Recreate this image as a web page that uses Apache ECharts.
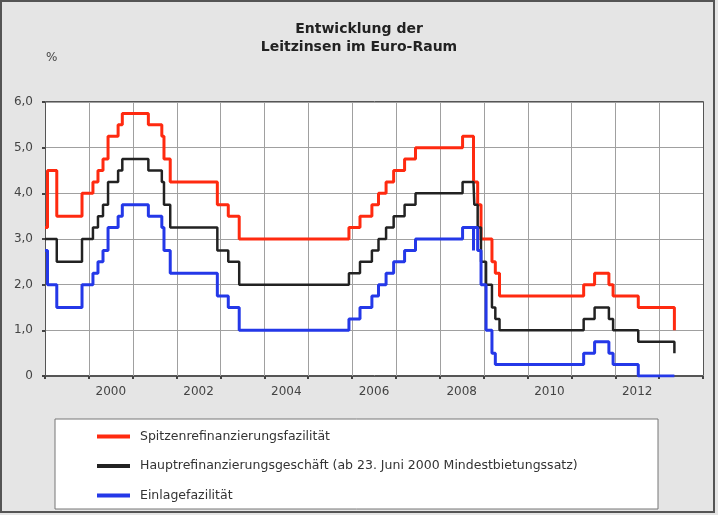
<!DOCTYPE html>
<html>
<head>
<meta charset="utf-8">
<script src="https://cdn.jsdelivr.net/npm/echarts@6/dist/echarts.min.js"></script>
<style>
    html, body { margin: 0; padding: 0; background: #e5e5e5; }
    #chart { width: 718px; height: 515px; }
</style>
</head>
<body>
<div id="chart"></div>
<script>
// Leitzinsen der EZB, Datum der Zinsänderung
const dates = ["1999-01-01", "1999-01-22", "1999-04-09", "1999-11-05", "2000-02-04", "2000-03-17",
    "2000-04-28", "2000-06-09", "2000-09-01", "2000-10-06", "2001-05-11", "2001-08-31", "2001-09-18",
    "2001-11-09", "2002-12-06", "2003-03-07", "2003-06-06", "2005-12-06", "2006-03-08", "2006-06-15",
    "2006-08-09", "2006-10-11", "2006-12-13", "2007-03-14", "2007-06-13", "2008-07-09", "2008-10-08",
    "2008-10-09", "2008-10-15", "2008-11-12", "2008-12-10", "2009-01-21", "2009-03-11", "2009-04-08",
    "2009-05-13", "2011-04-13", "2011-07-13", "2011-11-09", "2011-12-14", "2012-07-11", "2013-05-08"]
const spitzen = [3.25, 4.50, 3.50, 4.00, 4.25, 4.50, 4.75, 5.25, 5.50, 5.75, 5.50, 5.25, 4.75,
    4.25, 3.75, 3.50, 3.00, 3.25, 3.50, 3.75, 4.00, 4.25, 4.50, 4.75, 5.00, 5.25, 4.75,
    4.25, 4.25, 3.75, 3.00, 3.00, 2.50, 2.25, 1.75, 2.00, 2.25, 2.00, 1.75, 1.50, 1.00]
const haupt = [3.00, 3.00, 2.50, 3.00, 3.25, 3.50, 3.75, 4.25, 4.50, 4.75, 4.50, 4.25, 3.75,
    3.25, 2.75, 2.50, 2.00, 2.25, 2.50, 2.75, 3.00, 3.25, 3.50, 3.75, 4.00, 4.25, 4.25,
    4.25, 3.75, 3.25, 2.50, 2.00, 1.50, 1.25, 1.00, 1.25, 1.50, 1.25, 1.00, 0.75, 0.50]
const einlage = [2.75, 2.00, 1.50, 2.00, 2.25, 2.50, 2.75, 3.25, 3.50, 3.75, 3.50, 3.25, 2.75,
    2.25, 1.75, 1.50, 1.00, 1.25, 1.50, 1.75, 2.00, 2.25, 2.50, 2.75, 3.00, 3.25, 2.75,
    3.25, 3.25, 2.75, 2.00, 1.00, 0.50, 0.25, 0.25, 0.50, 0.75, 0.50, 0.25, 0.00, 0.00]
const years = ["1999", "2000", "2001", "2002", "2003", "2004", "2005", "2006",
    "2007", "2008", "2009", "2010", "2011", "2012", "2013"]
const names = ["Spitzenrefinanzierungsfazilität",
    "Hauptrefinanzierungsgeschäft (ab 23. Juni 2000 Mindestbietungssatz)",
    "Einlagefazilität"]

// Datum -> Jahr als Dezimalzahl
function toYear(d) {
    let y = +d.slice(0, 4)
    let t = Date.UTC(y, +d.slice(5, 7) - 1, +d.slice(8, 10))
    let a = Date.UTC(y, 0, 1), b = Date.UTC(y + 1, 0, 1)
    return y + (t - a) / (b - a)
}
function pairs(vals) {
    return vals.map((v, i) => [toYear(dates[i]), v])
}

let myChart = echarts.init(document.getElementById("chart"))
let font = "DejaVu Sans"
let gridColor = "#a0a0a0"

// feste Grafik: Zeichenfläche, Legendenkasten, Rahmen, "%"
let baseGraphic = [
    {
        type: "rect", z: -10, silent: true,
        shape: { x: 45.5, y: 101.5, width: 658, height: 274 },
        style: { fill: "#fff", stroke: "#555", lineWidth: 1 }
    },
    {
        type: "rect", z: -1,
        shape: { x: 55, y: 419, width: 603, height: 90 },
        style: { fill: "#fff", stroke: "#777", lineWidth: 1 }
    },
    {
        type: "rect",
        shape: { x: 1, y: 1, width: 713, height: 511 },
        style: { fill: null, stroke: "#555", lineWidth: 2 }
    },
    {
        type: "text", left: 46, top: 52,
        style: { text: "%", fontFamily: font, fontSize: 12, fill: "#444" }
    }
]

let option = {
    backgroundColor: "#e5e5e5",
    animation: false,
    title: {
        text: "Entwicklung der\nLeitzinsen im Euro-Raum",
        left: "center",
        top: 15,
        textStyle: { fontFamily: font, fontSize: 14, fontWeight: "bold", lineHeight: 18, color: "#222" }
    },
    legend: {
        orient: "vertical",
        left: 97,
        top: 430,
        padding: 0,
        icon: "rect",
        itemWidth: 33,
        itemHeight: 4,
        itemGap: 16.5,
        itemStyle: { borderWidth: 0 },
        textStyle: { fontFamily: font, fontSize: 12.5, color: "#333", padding: [0, 0, 0, 5] },
        data: names
    },
    grid: {
        left: 45,
        right: 15,
        top: 102,
        bottom: 139
    },
    xAxis: [
        {
            // Zeitachse in Jahren, nur für die Linien
            type: "value",
            min: 1999,
            max: 2014,
            interval: 1,
            show: false
        },
        {
            // Jahresbänder für Striche und Beschriftung
            type: "category",
            data: years,
            position: "bottom",
            boundaryGap: true,
            axisLine: { show: true, lineStyle: { color: "#555" } },
            axisTick: { show: true, interval: 0, length: 3, lineStyle: { color: "#444", width: 2 } },
            splitLine: { show: false },
            axisLabel: {
                interval: (i, v) => +v % 2 === 0,
                margin: 10,
                fontFamily: font,
                fontSize: 12,
                color: "#444"
            }
        }
    ],
    yAxis: {
        type: "value",
        min: 0,
        max: 6,
        interval: 1,
        axisLine: { show: true, lineStyle: { color: "#555" } },
        axisTick: { show: true, length: 3, lineStyle: { color: "#444", width: 2 } },
        axisLabel: {
            margin: 12,
            fontFamily: font,
            fontSize: 12,
            color: "#444",
            formatter: v => v === 0 ? "0" : v.toFixed(1).replace(".", ",")
        },
        splitLine: { lineStyle: { color: gridColor } }
    },
    series: [
        {
            name: names[0], type: "line", step: "end", showSymbol: false,
            data: pairs(spitzen), color: "#ff2a10",
            lineStyle: { width: 3 }
        },
        {
            name: names[1], type: "line", step: "end", showSymbol: false,
            data: pairs(haupt), color: "#222",
            lineStyle: { width: 2.5 }
        },
        {
            name: names[2], type: "line", step: "end", showSymbol: false,
            data: pairs(einlage), color: "#2438e8",
            lineStyle: { width: 3 }
        }
    ],
    graphic: baseGraphic
}
myChart.setOption(option)

// senkrechte Jahreslinien über die Skala der Zeitachse
let yBottom = myChart.convertToPixel({ yAxisIndex: 0 }, 0)
let yTop = myChart.convertToPixel({ yAxisIndex: 0 }, 6)
let yearLines = years.slice(1).map(y => {
    let x = Math.round(myChart.convertToPixel({ xAxisIndex: 0 }, +y)) + 0.5
    return {
        type: "line", z: 1, silent: true,
        shape: { x1: x, y1: yBottom, x2: x, y2: yTop },
        style: { stroke: gridColor, lineWidth: 1 }
    }
})
myChart.setOption({ graphic: baseGraphic.concat(yearLines) })

window.addEventListener("resize", function () {
    myChart.resize()
})
</script>
</body>
</html>
